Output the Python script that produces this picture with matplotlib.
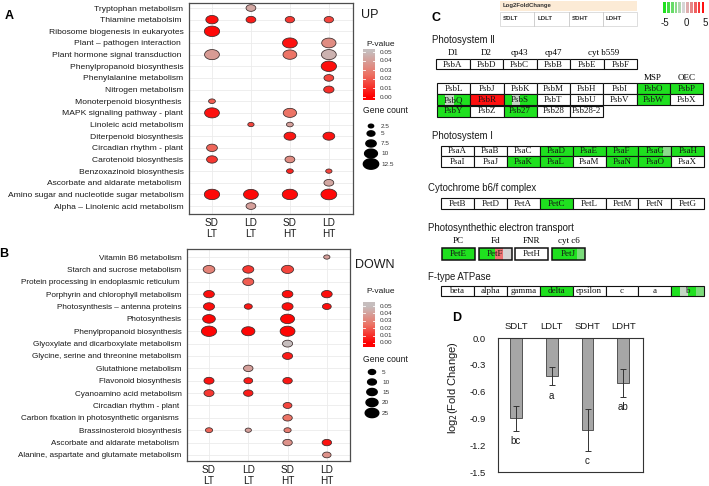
import numpy as np
import matplotlib
matplotlib.use('Agg')
import matplotlib.pyplot as plt
from matplotlib.path import Path
from matplotlib.colors import LinearSegmentedColormap, Normalize
from matplotlib.patches import Rectangle

plt.rcParams['font.family'] = ['Liberation Sans', 'DejaVu Sans']

# ---------------- data ----------------
conditions = ['SD\nLT', 'LD\nLT', 'SD\nHT', 'LD\nHT']

up_pathways = ['Tryptophan metabolism', 'Thiamine metabolsim ', 'Ribosome biogenesis in eukaryotes',
               'Plant \u2013 pathogen interaction ', 'Plant hormone signal transduction ',
               'Phenylpropanoid biosynthesis', 'Phenylalanine metabolism', 'Nitrogen metabolism',
               'Monoterpenoid biosynthesis ', 'MAPK signaling pathway - plant', 'Linoleic acid metabolism',
               'Diterpenoid biosynthesis', 'Circadian rhythm - plant', 'Carotenoid biosynthesis',
               'Benzoxazinoid biosynthesis', 'Ascorbate and aldarate metabolism ',
               'Amino sugar and nucleotide sugar metabolism', 'Alpha \u2013 Linolenic acid metabolism']
up_path = [0, 1, 1, 1, 1, 2, 3, 3, 4, 4, 4, 5, 6, 7, 8, 9, 9, 10, 10, 11, 11, 12, 13, 13, 14, 14, 15,
           16, 16, 16, 16, 17]
up_cond = [1, 0, 1, 2, 3, 0, 2, 3, 0, 2, 3, 3, 3, 3, 0, 0, 2, 1, 2, 2, 3, 0, 0, 2, 2, 3, 3,
           0, 1, 2, 3, 1]
up_count = [7, 9.5, 7, 6.5, 6.5, 12.5, 12, 11.5, 12, 11, 12, 12.5, 7, 7.5, 4, 12, 10.5, 3.5, 4, 9, 9,
            8, 8, 7, 4, 3.5, 7, 12.5, 12, 12.5, 13, 7]
up_pval = [.042, .003, .006, .012, .015, .002, .004, .033, .038, .025, .046, .003, .015, .01, .02,
           .004, .025, .015, .04, .005, .004, .022, .012, .033, .008, .015, .042, .002, .002, .002,
           .002, .04]

down_pathways = ['Vitamin B6 metabolism', 'Starch and sucrose metabolism',
                 'Protein processing in endoplasmic reticulum ', 'Porphyrin and chlorophyll metabolism',
                 'Photosynthesis \u2013 antenna proteins', 'Photosynthesis', 'Phenylpropanoid biosynthesis',
                 'Glyoxylate and dicarboxylate metabolism', 'Glycine, serine and threonine metabolism',
                 'Glutathione metabolism', 'Flavonoid biosynthesis', 'Cyanoamino acid metabolism',
                 'Circadian rhythm - plant ', 'Carbon fixation in photosynthetic organisms ',
                 'Brassinosteroid biosynthesis', 'Ascorbate and aldarate metabolism ',
                 'Alanine, aspartate and glutamate metabolism']
down_path = [0, 1, 1, 1, 2, 3, 3, 3, 4, 4, 4, 4, 5, 5, 6, 6, 6, 7, 8, 9, 10, 10, 10, 11, 11, 12, 13,
             14, 14, 14, 15, 15, 16]
down_cond = [3, 0, 1, 2, 1, 0, 2, 3, 0, 1, 2, 3, 0, 2, 0, 1, 2, 2, 2, 1, 0, 1, 2, 0, 1, 2, 2,
             0, 1, 2, 2, 3, 3]
down_count = [2, 19, 17, 20, 17, 16, 16, 16, 17, 7.5, 17, 10, 22, 26, 30, 24, 29, 14, 14, 12, 14, 10,
              12, 14, 12, 10, 12, 5, 2, 5, 12, 12, 9]
down_pval = [.04, .03, .012, .015, .02, .003, .003, .003, .003, .005, .003, .003, .001, .001, .001,
             .001, .001, .05, .006, .04, .004, .006, .005, .012, .006, .015, .025, .022, .04, .028,
             .035, .004, .035]

up_legend_counts = [2.5, 5, 7.5, 10, 12.5]
down_legend_counts = [5, 10, 15, 20, 25]
pval_ticks = [0.05, 0.04, 0.03, 0.02, 0.01, 0.00]

# panel C
psII_row1 = ['PsbA', 'PsbD', 'PsbC', 'PsbB', 'PsbE', 'PsbF']
psII_row1_labels = ['D1', 'D2', 'cp43', 'cp47']
psII_rows = [['PsbL', 'PsbJ', 'PsbK', 'PsbM', 'PsbH', 'PsbI', 'PsbO', 'PsbP'],
             ['PsbQ', 'PsbR', 'PsbS', 'PsbT', 'PsbU', 'PsbV', 'PsbW', 'PsbX'],
             ['PsbY', 'PsbZ', 'Psb27', 'Psb28', 'Psb28-2']]
psI_rows = [['PsaA', 'PsaB', 'PsaC', 'PsaD', 'PsaE', 'PsaF', 'PsaG', 'PsaH'],
            ['PsaI', 'PsaJ', 'PsaK', 'PsaL', 'PsaM', 'PsaN', 'PsaO', 'PsaX']]
cytb6f = ['PetB', 'PetD', 'PetA', 'PetC', 'PetL', 'PetM', 'PetN', 'PetG']
pet_genes = ['PetE', 'PetF', 'PetH', 'PetJ']
pet_labels = ['PC', 'Fd', 'FNR', 'cyt c6']
atpase = ['beta', 'alpha', 'gamma', 'delta', 'epsilon', 'c', 'a', 'b']
fc_conditions = ['SDLT', 'LDLT', 'SDHT', 'LDHT']
log2fc = {
    'PsbO': [-5, -5, -5, -5], 'PsbP': [-5, -5, -5, -5], 'PsbQ': [-5, -0.5, -5, -5],
    'PsbR': [5, 5, 5, 5], 'PsbS': [-5, -0.5, -5, -5], 'PsbW': [-5, -5, -5, -5],
    'PsbY': [-5, -5, -5, -5], 'Psb27': [-5, -5, -5, -5],
    'PsaD': [-5, -5, -5, -5], 'PsaE': [-5, -5, -5, -5], 'PsaF': [-5, -5, -5, -5],
    'PsaG': [-5, -5, -5, -2], 'PsaH': [-5, -5, -5, -5], 'PsaK': [-5, -5, -5, -5],
    'PsaL': [-5, -5, -5, -5], 'PsaN': [-5, -5, -5, -5], 'PsaO': [-5, -5, -5, -5],
    'PetC': [-5, -5, -5, -5], 'PetE': [-5, -5, -5, -5], 'PetF': [-5, -5, 2.5, 0],
    'PetJ': [-5, -5, -5, -2.5], 'delta': [-5, -5, -5, -5], 'b': [-5, -0.5, -5, -2.5],
}

# panel D
d_groups = ['SDLT', 'LDLT', 'SDHT', 'LDHT']
d_values = [-0.90, -0.425, -1.03, -0.50]
d_errors = [0.14, 0.105, 0.23, 0.155]
d_letters = ['bc', 'a', 'c', 'ab']
d_yticks = [0.0, -0.3, -0.6, -0.9, -1.2, -1.5]

# ---------------- figure ----------------
W, H = 709, 486
fig = plt.figure(figsize=(W / 100, H / 100), dpi=100)


def ax_px(l, t, r, b, **kw):
    return fig.add_axes([l / W, 1 - b / H, (r - l) / W, (b - t) / H], **kw)


th = np.linspace(0, 2 * np.pi, 64)
ell = Path(np.column_stack([np.cos(th), 0.68 * np.sin(th)]), closed=True)

pv_cmap = LinearSegmentedColormap.from_list('pv', ['#FF0000', '#EC7466', '#C6BEBE'])
pv_norm = Normalize(0, 0.05)
fc_cmap = LinearSegmentedColormap.from_list('fc', ['#1FE01F', '#D6D6D6', '#FF1010'])
fc_norm = Normalize(-5, 5)


def size_up(c):
    return ((2.8 + 1.0 * np.asarray(c, float)) * 0.72) ** 2


def size_down(c):
    return ((5.6 + 0.32 * np.asarray(c, float)) * 0.72) ** 2


def bubble_panel(ax, pathways, path, cond, count, pval, sizef, xlim, ylim, fs):
    ax.scatter(cond, path, s=sizef(count), c=pval, cmap=pv_cmap, norm=pv_norm, marker=ell,
               edgecolors='#3A2A2A', linewidths=0.55, zorder=3)
    ax.set_xlim(*xlim)
    ax.set_ylim(*ylim)
    ax.set_yticks(range(len(pathways)))
    ax.set_yticklabels(pathways, fontsize=fs, color='#1A1A1A')
    ax.set_xticks(range(4))
    ax.set_xticklabels(conditions, fontsize=7.2, color='#1A1A1A', linespacing=1.15)
    ax.tick_params(length=0, pad=4)
    ax.tick_params(axis='x', pad=3)
    ax.grid(color='#EBEBEB', lw=0.6)
    ax.set_axisbelow(True)
    for s in ax.spines.values():
        s.set_color('#4D4D4D')
        s.set_linewidth(0.9)


axA = ax_px(189, 3, 353, 214)
bubble_panel(axA, up_pathways, up_path, up_cond, up_count, up_pval, size_up,
             (-0.59, 3.62), (17.68, -0.43), 6.1)
axB = ax_px(187, 249, 350, 461)
bubble_panel(axB, down_pathways, down_path, down_cond, down_count, down_pval, size_down,
             (-0.56, 3.59), (16.49, -0.65), 5.9)

# colorbars for p-value
def pbar(t, b, y005, y000):
    cax = ax_px(363, t, 375, b)
    v_top = 0.05 + (y005 - t) / (y000 - y005) * 0.05
    v_bot = -(b - y000) / (y000 - y005) * 0.05
    grad = np.linspace(v_bot, v_top, 200)[:, None]
    cax.imshow(grad, cmap=pv_cmap, norm=pv_norm, aspect='auto', origin='lower',
               extent=[0, 1, v_bot, v_top])
    cax.set_xlim(0, 1)
    cax.set_ylim(v_bot, v_top)
    for v in pval_ticks:
        cax.plot([0, 0.18], [v, v], color='white', lw=0.6)
        cax.plot([0.82, 1], [v, v], color='white', lw=0.6)
    cax.axis('off')
    for v in pval_ticks:
        y = y000 - v / 0.05 * (y000 - y005)
        fig.text(380 / W, 1 - y / H, '%.2f' % v, fontsize=4.6, va='center', ha='left', color='#333333')


pbar(49, 100, 52, 97)
pbar(302, 347, 306, 343)

ov = fig.add_axes([0, 0, 1, 1])
ov.set_xlim(0, W)
ov.set_ylim(H, 0)
ov.axis('off')

# gene count legends
ov.scatter([371] * 5, [126, 133.5, 143.5, 153.5, 164], s=size_up(up_legend_counts), marker=ell,
           color='black')
for c, y in zip(up_legend_counts, [126, 133.5, 143.5, 153.5, 164]):
    ov.text(381, y, ('%g' % c), fontsize=4.6, va='center', color='#333333')
ov.scatter([372] * 5, [372, 382, 392, 402.5, 413], s=size_down(down_legend_counts), marker=ell,
           color='black')
for c, y in zip(down_legend_counts, [372, 382, 392, 402.5, 413]):
    ov.text(382, y, ('%g' % c), fontsize=4.6, va='center', color='#333333')

ov.text(363, 110, 'Gene count', fontsize=6.2, va='center', color='#1A1A1A')
ov.text(363, 359, 'Gene count', fontsize=6.2, va='center', color='#1A1A1A')
ov.text(366, 44, 'P-value', fontsize=6.0, va='center', color='#1A1A1A')
ov.text(366, 291, 'P-value', fontsize=6.0, va='center', color='#1A1A1A')
ov.text(361, 15, 'UP', fontsize=9, va='center', color='#1A1A1A')
ov.text(355, 265, 'DOWN', fontsize=9, va='center', color='#1A1A1A')

ov.text(5, 16, 'A', fontsize=9, fontweight='bold', va='center')
ov.text(-1, 254, 'B', fontsize=9, fontweight='bold', va='center')
ov.text(432, 18, 'C', fontsize=9, fontweight='bold', va='center')
ov.text(452, 318, 'D', fontsize=9, fontweight='bold', va='center')

# ---------------- panel C ----------------
SERIF = 'Liberation Serif'
CFS = 6.5


def cell(x, y, w, h, name, lw=0.8):
    vals = log2fc.get(name)
    if vals is None:
        ov.add_patch(Rectangle((x, y), w, h, facecolor='white', edgecolor='none'))
    else:
        for k, v in enumerate(vals):
            ov.add_patch(Rectangle((x + k * w / 4, y), w / 4 + 0.05, h,
                                   facecolor=fc_cmap(fc_norm(v)), edgecolor='none'))
    ov.add_patch(Rectangle((x, y), w, h, facecolor='none', edgecolor='#111111', lw=lw))
    ov.text(x + w / 2, y + h / 2 + 0.3, name, family=SERIF, fontsize=CFS, ha='center', va='center',
            color='#151515')


def title(x, y, s):
    ov.text(x, y, s, fontsize=6.9, va='center', color='#1A1A1A')


# header
ov.add_patch(Rectangle((500, 1), 137, 10, facecolor='#FCEBD6', edgecolor='none'))
ov.text(503, 6, 'Log2FoldChange', fontsize=4.3, fontweight='bold', va='center', color='#333333')
ov.add_patch(Rectangle((500, 12), 137, 14, facecolor='white', edgecolor='#D8D8D8', lw=0.6))
for k, cnd in enumerate(fc_conditions):
    x0 = 500 + k * 137 / 4
    if k > 0:
        ov.plot([x0, x0], [12, 26], color='#C8C8C8', lw=0.6)
    ov.text(x0 + 3, 19, cnd, fontsize=4.4, fontweight='bold', va='center', color='#333333')
key_vals = np.linspace(-5, 5, 11)
for k, v in enumerate(key_vals):
    ov.add_patch(Rectangle((663 + k * 3.85, 2), 2.8, 11, facecolor=fc_cmap(fc_norm(v)),
                           edgecolor='none'))
for v, x in zip([-5, 0, 5], [665, 686, 705]):
    ov.text(x, 22.5, '%d' % v, fontsize=7, ha='center', va='center', color='#1A1A1A')

# Photosystem II
title(432, 40, 'Photosystem \u2161')
w2 = 33.5
for k, g in enumerate(psII_row1):
    cell(436 + k * w2, 59, w2, 10.5, g)
for k, lab in enumerate(psII_row1_labels):
    ov.text(436 + (k + 0.5) * w2, 53, lab, family=SERIF, fontsize=CFS, ha='center', va='center')
ov.text(436 + 5 * w2, 53, 'cyt b559', family=SERIF, fontsize=CFS, ha='center', va='center')
w2b = 33.25
for r, row in enumerate(psII_rows):
    for k, g in enumerate(row):
        cell(437 + k * w2b, 83.5 + r * 11, w2b, 11, g)
ov.text(437 + 6.5 * w2b, 78, 'MSP', family=SERIF, fontsize=CFS, ha='center', va='center')
ov.text(437 + 7.5 * w2b, 78, 'OEC', family=SERIF, fontsize=CFS, ha='center', va='center')

# Photosystem I
title(432, 136, 'Photosystem \u2160')
w1 = 32.9
for r, row in enumerate(psI_rows):
    for k, g in enumerate(row):
        cell(441 + k * w1, 145.5 + r * 10.5, w1, 10.5, g)

# Cytochrome b6/f
title(428, 188, 'Cytochrome b6/f complex')
for k, g in enumerate(cytb6f):
    cell(441 + k * w1, 198, w1, 10.5, g)

# electron transport
title(428, 228, 'Photosynthethic electron transport')
for k, (g, lab) in enumerate(zip(pet_genes, pet_labels)):
    x0 = 442 + k * 36.7
    cell(x0, 248, 33, 12, g, lw=1.1)
    ov.text(x0 + 16.5, 241, lab, family=SERIF, fontsize=CFS, ha='center', va='center')

# ATPase
title(428, 277, 'F-type ATPase')
for k, g in enumerate(atpase):
    cell(441 + k * w1, 286, w1, 10, g)

# ---------------- panel D ----------------
axD = ax_px(498, 338, 643, 472)
xd = np.arange(len(d_groups))
axD.bar(xd, d_values, width=0.33, color='#A6A6A6', edgecolor='#404040', lw=0.6, zorder=2)
axD.errorbar(xd, d_values, yerr=d_errors, fmt='none', ecolor='#333333', elinewidth=0.7,
             capsize=2, capthick=0.7, zorder=3)
for x, v, e, t in zip(xd, d_values, d_errors, d_letters):
    axD.text(x, v - e - 0.06, t, fontsize=7, ha='center', va='top', color='#1A1A1A')
axD.set_xlim(-0.5, 3.55)
axD.set_ylim(-1.5, 0)
axD.set_yticks(d_yticks)
axD.set_yticklabels(['%.1f' % v for v in d_yticks], fontsize=6.8, color='#1A1A1A')
axD.xaxis.tick_top()
axD.set_xticks(xd)
axD.set_xticklabels(d_groups, fontsize=6.8, color='#1A1A1A')
axD.tick_params(axis='y', length=0, pad=9)
axD.tick_params(axis='x', length=0, pad=5)
for s in axD.spines.values():
    s.set_color('#333333')
    s.set_linewidth(0.8)
fig.text(453 / W, 1 - 388 / H, r'log$_2$(Fold Change)', rotation=90, fontsize=8,
         ha='center', va='center', color='#1A1A1A')

fig.savefig('out.png', dpi=100)
